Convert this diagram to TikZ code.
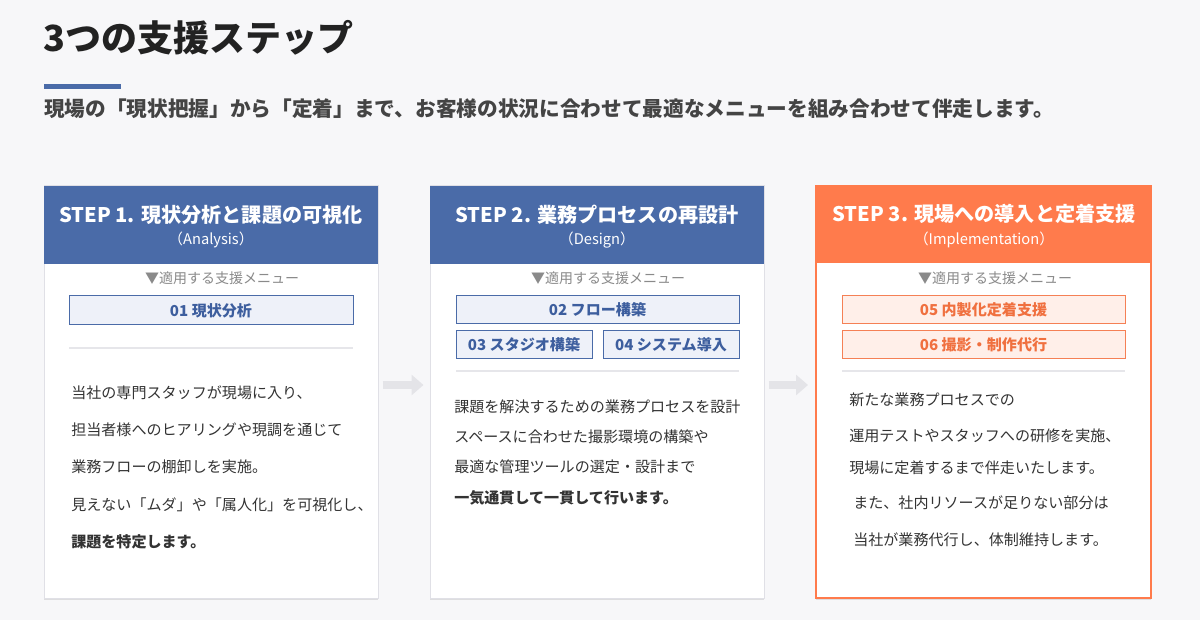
\documentclass[tikz,border=0pt]{standalone}
\usepackage{fontspec}
\setmainfont{Noto Sans CJK JP}
\usetikzlibrary{arrows.meta,fit,calc,shadows}
\definecolor{pagebg}{HTML}{F7F7F9}
\definecolor{stepblue}{HTML}{4A6BA8}
\definecolor{steporange}{HTML}{FF7B4C}
\definecolor{cardline}{HTML}{E0E0E6}
\definecolor{bluefill}{HTML}{EEF1F9}
\definecolor{bluetext}{HTML}{3D5E9E}
\definecolor{orangefill}{HTML}{FFEFE9}
\definecolor{orangeline}{HTML}{F58055}
\definecolor{orangetext}{HTML}{F0703F}
\definecolor{bodytext}{HTML}{333333}
\definecolor{titletext}{HTML}{222222}
\definecolor{subtext}{HTML}{444444}
\definecolor{hintgray}{HTML}{8A8A8A}
\definecolor{sepgray}{HTML}{E6E6EA}
\definecolor{arrowgray}{HTML}{E4E4E8}
\tikzset{
  card/.style={draw=cardline, line width=0.75pt, fill=white, inner sep=0pt,
    drop shadow={shadow xshift=0pt, shadow yshift=-1.2pt, opacity=0.10, fill=black}},
  orangecard/.style={draw=steporange, line width=1.5pt, fill=white, inner sep=0pt,
    drop shadow={shadow xshift=0pt, shadow yshift=-1.2pt, opacity=0.10, fill=black}},
  headfill/.style={inner sep=0pt},
  headtitle/.style={text=white, font=\bfseries\fontsize{15.1}{18}\selectfont, inner sep=0pt},
  headsub/.style={text=white, font=\fontsize{11}{13}\selectfont, inner sep=0pt},
  menuhint/.style={text=hintgray, font=\fontsize{10.5}{12}\selectfont, inner sep=0pt},
  bluemenu/.style={draw=stepblue, fill=bluefill, line width=0.75pt, inner sep=0pt},
  orangemenu/.style={draw=orangeline, fill=orangefill, line width=0.75pt, inner sep=0pt},
  bluemenutext/.style={text=bluetext, font=\bfseries\fontsize{11.3}{13}\selectfont, inner sep=0pt},
  orangemenutext/.style={text=orangetext, font=\bfseries\fontsize{11.3}{13}\selectfont, inner sep=0pt},
  sepline/.style={draw=sepgray, line width=1.5pt},
  bodyline/.style={anchor=base west, text=bodytext, font=\fontsize{11.3}{13}\selectfont, inner sep=0pt},
  boldline/.style={bodyline, font=\bfseries\fontsize{11.3}{13}\selectfont},
  flowarrow/.style={draw=arrowgray, line width=6pt, -{Triangle[length=9pt,width=15pt]}},
}
\begin{document}
\begin{tikzpicture}[x=0.75pt,y=-0.75pt]
\useasboundingbox (0,0) rectangle (1200,620);
\fill[pagebg] (0,0) rectangle (1200,620);

% Title area
\node[anchor=base west, inner sep=0pt, text=titletext, font=\bfseries\fontsize{27}{31}\selectfont] (title) at (43,52) {3つの支援ステップ};
\fill[stepblue] (44,84) rectangle (121,89);
\node[anchor=base west, inner sep=0pt, text=subtext, font=\bfseries\fontsize{15.5}{18}\selectfont] (subtitle) at (44,117) {現場の「現状把握」から「定着」まで、お客様の状況に合わせて最適なメニューを組み合わせて伴走します。};

% ---------- Card 1 ----------
\node[card, fit={(44,186)(378,598)}] (c1) {};
\node[headfill, fill=stepblue, fit={(44,186)(378,264)}] (h1) {};
\node[headtitle] (h1t) at (211,215) {STEP 1. 現状分析と課題の可視化};
\node[headsub] (h1s) at (211,240) {（Analysis）};
\node[menuhint] (hint1) at (222,278) {▼適用する支援メニュー};
\node[bluemenu, fit={(69,296)(353,325)}] (b01) {};
\node[bluemenutext] (b01t) at (b01.center) {01 現状分析};
\draw[sepline] (69,348) -- (353,348);
\node[bodyline] (t11) at (71,398) {当社の専門スタッフが現場に入り、};
\node[bodyline] (t12) at (71,435) {担当者様へのヒアリングや現調を通じて};
\node[bodyline] (t13) at (71,472) {業務フローの棚卸しを実施。};
\node[bodyline] (t14) at (71,510) {見えない「ムダ」や「属人化」を可視化し、};
\node[boldline] (t15) at (71,547) {課題を特定します。};

% ---------- Card 2 ----------
\node[card, fit={(430,186)(764,598)}] (c2) {};
\node[headfill, fill=stepblue, fit={(430,186)(764,264)}] (h2) {};
\node[headtitle] (h2t) at (597,215) {STEP 2. 業務プロセスの再設計};
\node[headsub] (h2s) at (597,240) {（Design）};
\node[menuhint] (hint2) at (608,278) {▼適用する支援メニュー};
\node[bluemenu, fit={(456,296)(739,324)}] (b02) {};
\node[bluemenutext] (b02t) at (b02.center) {02 フロー構築};
\node[bluemenu, fit={(456,331)(592,359)}] (b03) {};
\node[bluemenutext] (b03t) at (b03.center) {03 スタジオ構築};
\node[bluemenu, fit={(603,331)(739,359)}] (b04) {};
\node[bluemenutext] (b04t) at (b04.center) {04 システム導入};
\draw[sepline] (456,371) -- (739,371);
\node[bodyline] (t21) at (454,412) {課題を解決するための業務プロセスを設計};
\node[bodyline] (t22) at (454,442) {スペースに合わせた撮影環境の構築や};
\node[bodyline] (t23) at (454,472) {最適な管理ツールの選定・設計まで};
\node[boldline] (t24) at (454,503) {一気通貫して一貫して行います。};

% ---------- Card 3 ----------
\node[orangecard, fit={(816,186)(1151,598)}] (c3) {};
\node[headfill, fill=steporange, fit={(816,186)(1151,263)}] (h3) {};
\node[headtitle] (h3t) at (984,214) {STEP 3. 現場への導入と定着支援};
\node[headsub] (h3s) at (984,240) {（Implementation）};
\node[menuhint] (hint3) at (995,278) {▼適用する支援メニュー};
\node[orangemenu, fit={(842,296)(1125,324)}] (b05) {};
\node[orangemenutext] (b05t) at (b05.center) {05 内製化定着支援};
\node[orangemenu, fit={(842,331)(1125,359)}] (b06) {};
\node[orangemenutext] (b06t) at (b06.center) {06 撮影・制作代行};
\draw[sepline] (842,371) -- (1125,371);
\node[bodyline] (t31) at (849,405) {新たな業務プロセスでの};
\node[bodyline] (t32) at (849,441) {運用テストやスタッフへの研修を実施、};
\node[bodyline] (t33) at (849,473) {現場に定着するまで伴走いたします。};
\node[bodyline] (t34) at (853,508) {また、社内リソースが足りない部分は};
\node[bodyline] (t35) at (853,545) {当社が業務代行し、体制維持します。};

% ---------- Arrows ----------
\draw[flowarrow] ($(c1.east)+(4,-7)$) -- ($(c2.west)+(-6,-7)$);
\draw[flowarrow] ($(c2.east)+(4,-7)$) -- ($(c3.west)+(-7,-7)$);
\end{tikzpicture}
\end{document}
